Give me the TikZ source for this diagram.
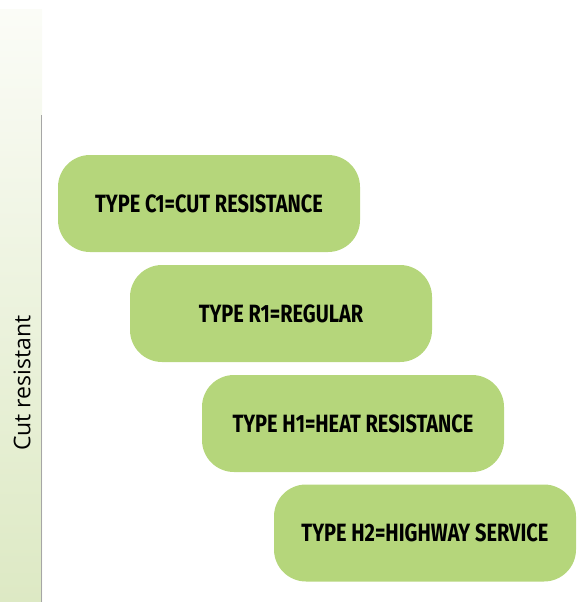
\documentclass[tikz,border=0pt]{standalone}
\usepackage{fontspec}
\setmainfont{Open Sans}
\newfontfamily\typefont[FakeStretch=0.8]{Fira Sans}
\usetikzlibrary{positioning}
\definecolor{boxgreen}{RGB}{181,214,123}
\definecolor{stripgreen}{RGB}{221,233,196}
\definecolor{striptop}{RGB}{251,252,247}

\begin{document}
\begin{tikzpicture}[x=1pt,y=-1pt,
  typebox/.style={fill=boxgreen, rounded corners=32pt, minimum width=302pt,
    minimum height=97pt, inner sep=0pt, font=\typefont\bfseries\fontsize{25}{28}\selectfont},
  axislabel/.style={rotate=90, font=\fontsize{23}{26}\selectfont}]
\useasboundingbox (0,0) rectangle (584,602);
% side strip
\shade[top color=striptop, bottom color=stripgreen] (0,10) rectangle (42,602);
\draw[gray!70] (41.5,115) -- (41.5,602);
\node[axislabel] (cut) at (22,383) {Cut resistant};
% type boxes
\node[typebox] (c1) at (209,203.5) {TYPE C1=CUT RESISTANCE};
\node[typebox] (r1) at (281,313.5) {TYPE R1=REGULAR};
\node[typebox] (h1) at (353,423.5) {TYPE H1=HEAT RESISTANCE};
\node[typebox] (h2) at (425,533) {TYPE H2=HIGHWAY SERVICE};
\end{tikzpicture}
\end{document}
